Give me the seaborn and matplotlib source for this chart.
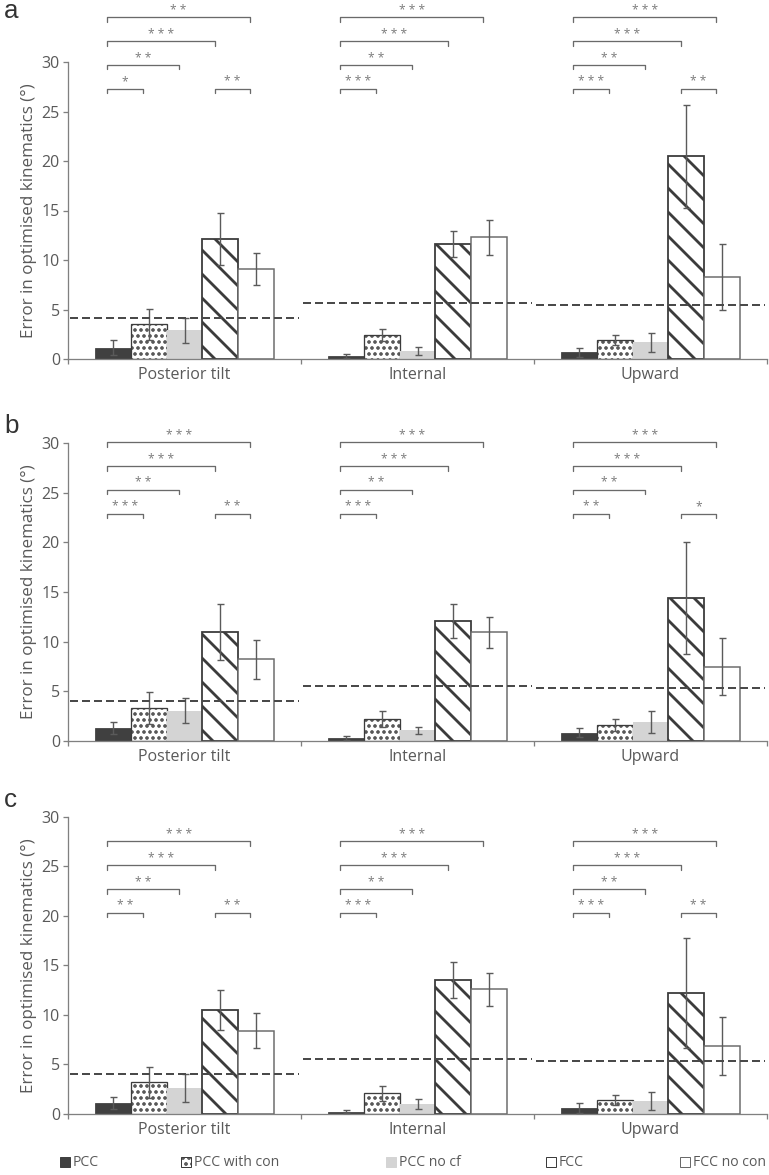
import numpy as np
import pandas as pd
import matplotlib
matplotlib.use("Agg")
import matplotlib.pyplot as plt
import seaborn as sns
from matplotlib.patches import Patch

# ---------------- data ----------------
motions = ["Posterior tilt", "Internal", "Upward"]
conditions = ["PCC", "PCC with con", "PCC no cf", "FCC", "FCC no con"]
panel_letters = ["a", "b", "c"]
ylabel = "Error in optimised kinematics (°)"

# mean error per motion (rows) and condition (columns)
a_means = [[1.14, 3.5, 2.9, 12.1, 9.1],
           [0.3, 2.42, 0.85, 11.6, 12.3],
           [0.67, 1.92, 1.68, 20.5, 8.3]]
a_errs = [[0.75, 1.6, 1.25, 2.6, 1.65],
          [0.2, 0.6, 0.4, 1.3, 1.75],
          [0.45, 0.5, 0.95, 5.2, 3.3]]
a_ref = [4.1, 5.7, 5.45]

b_means = [[1.25, 3.27, 3.03, 10.94, 8.2],
           [0.24, 2.19, 1.05, 12.08, 10.94],
           [0.8, 1.58, 1.92, 14.43, 7.47]]
b_errs = [[0.6, 1.6, 1.27, 2.8, 2.0],
          [0.2, 0.8, 0.38, 1.7, 1.55],
          [0.45, 0.6, 1.1, 5.65, 2.85]]
b_ref = [4.0, 5.55, 5.35]

c_means = [[1.14, 3.2, 2.59, 10.5, 8.4],
           [0.24, 2.09, 1.05, 13.5, 12.58],
           [0.64, 1.41, 1.31, 12.24, 6.86]]
c_errs = [[0.6, 1.57, 1.4, 2.0, 1.75],
          [0.16, 0.77, 0.5, 1.8, 1.65],
          [0.5, 0.5, 0.9, 5.55, 2.95]]
c_ref = [4.04, 5.55, 5.35]

# significance: PCC vs (con, no cf, FCC, FCC no con), then FCC vs FCC no con
a_stars = [["*", "**", "***", "**", "**"],
           ["***", "**", "***", "***", ""],
           ["***", "**", "***", "***", "**"]]
b_stars = [["***", "**", "***", "***", "**"],
           ["***", "**", "***", "***", ""],
           ["**", "**", "***", "***", "*"]]
c_stars = [["**", "**", "***", "***", "**"],
           ["***", "**", "***", "***", ""],
           ["***", "**", "***", "***", "**"]]
bracket_base = [27.3, 22.9, 20.3]

panels = [(a_means, a_errs, a_ref, a_stars),
          (b_means, b_errs, b_ref, b_stars),
          (c_means, c_errs, c_ref, c_stars)]

# ---------------- style ----------------
DPI = 72
W, H = 769, 1175
sns.set_style("white")
plt.rcParams["font.family"] = ["Open Sans", "DejaVu Sans"]
plt.rcParams["hatch.linewidth"] = 2.4

TXT = "#595959"
AX = "#808080"
DARK = "#3c3c3c"
fills = {"PCC": "#404040", "PCC with con": "white", "PCC no cf": "#d4d4d4",
         "FCC": "white", "FCC no con": "white"}
edges = {"PCC": "#404040", "PCC with con": DARK, "PCC no cf": "#d4d4d4",
         "FCC": DARK, "FCC no con": "#6a6a6a"}
hatches = {"PCC": None, "PCC with con": "..", "PCC no cf": None,
           "FCC": "\\", "FCC no con": None}
lws = {"PCC": 0.8, "PCC with con": 1.3, "PCC no cf": 0.0, "FCC": 1.8, "FCC no con": 1.5}
hlw = {"PCC with con": 2.3, "FCC": 2.8}

fig = plt.figure(figsize=(W / DPI, H / DPI), dpi=DPI)

ax_left = 68 / W
ax_w = 699 / W
ax_rows = [(62, 359), (443.3, 740.7), (816.7, 1114)]
letter_base = [18, 433, 807]

for p, (means, errs, ref, stars) in enumerate(panels):
    top, bot = ax_rows[p]
    ax = fig.add_axes([ax_left, 1 - bot / H, ax_w, (bot - top) / H])
    rows = []
    for i, m in enumerate(motions):
        for k, c in enumerate(conditions):
            rows.append({"motion": m, "condition": c, "value": means[i][k], "err": errs[i][k]})
    df = pd.DataFrame(rows)
    sns.barplot(data=df, x="motion", y="value", hue="condition", order=motions,
                hue_order=conditions, palette=fills, width=0.77, saturation=1,
                errorbar=None, legend=False, ax=ax)

    bar_containers = list(ax.containers)
    centers = np.zeros((len(conditions), len(motions)))
    for k, cont in enumerate(bar_containers):
        cname = conditions[k]
        for i, bar in enumerate(cont):
            bar.set_facecolor(fills[cname])
            bar.set_edgecolor(edges[cname])
            bar.set_linewidth(lws[cname])
            if hatches[cname]:
                bar.set_hatch(hatches[cname])
                try:
                    bar.set_hatch_linewidth(hlw[cname])
                except AttributeError:
                    pass
            centers[k, i] = bar.get_x() + bar.get_width() / 2
    for k, cname in enumerate(conditions):
        ys = [means[i][k] for i in range(len(motions))]
        es = [errs[i][k] for i in range(len(motions))]
        ax.errorbar(centers[k], ys, yerr=es, fmt="none", ecolor="#5a5a5a",
                    elinewidth=1.4, capsize=3.5, capthick=1.4, zorder=5)

    # reference dashed level per motion
    for i, v in enumerate(ref):
        ax.plot([i - 0.49, i + 0.49], [v, v], ls=(0, (4, 2)), lw=2.0,
                color="#4a4a4a", zorder=6, clip_on=False)

    # significance brackets
    off = 0.025
    drop = 0.45
    step = 2.4

    def bracket(x0, x1, y, s):
        ax.plot([x0, x0, x1, x1], [y - drop, y, y, y - drop], color="#6a6a6a",
                lw=1.3, clip_on=False)
        ax.text((x0 + x1) / 2, y + 0.35, " ".join(s), ha="center", va="baseline",
                fontsize=12, color="#7a7a7a", clip_on=False)

    for i in range(len(motions)):
        base = bracket_base[p]
        for lvl in range(4):
            bracket(centers[0, i] - off, centers[lvl + 1, i] - off,
                    base + lvl * step, stars[i][lvl])
        if stars[i][4]:
            bracket(centers[3, i] - off, centers[4, i] - off, base, stars[i][4])

    ax.set_xlim(-0.5, 2.5)
    ax.set_ylim(0, 30)
    ax.set_yticks(np.arange(0, 31, 5))
    ax.set_xticks(range(len(motions)))
    ax.set_xticklabels(motions)
    ax.set_xticks([-0.5, 0.5, 1.5, 2.5], minor=True)
    ax.set_xlabel("")
    ax.set_ylabel(ylabel, fontsize=17, color=TXT, labelpad=5)
    for sp in ["top", "right"]:
        ax.spines[sp].set_visible(False)
    for sp in ["left", "bottom"]:
        ax.spines[sp].set_color(AX)
        ax.spines[sp].set_linewidth(1.3)
    ax.tick_params(axis="y", length=5, width=1.3, color=AX, labelsize=16,
                   labelcolor=TXT, pad=3, left=True)
    ax.tick_params(axis="x", which="major", length=0, pad=8, labelsize=16,
                   labelcolor=TXT)
    ax.tick_params(axis="x", which="minor", length=5, width=1.3, color=AX,
                   bottom=True)

    fig.text(4 / W, 1 - letter_base[p] / H, panel_letters[p], fontsize=26,
             color="#333333", va="baseline", ha="left", family="Liberation Sans")

# legend: one entry per slot, placed like the original
legend_x = [60, 181, 386, 546, 680]
for c, lx in zip(conditions, legend_x):
    h = Patch(facecolor=fills[c], edgecolor=edges[c], hatch=hatches[c], linewidth=1.0)
    fig.legend([h], [c], loc="center left", bbox_to_anchor=(lx / W, 1 - 1163 / H),
               frameon=False, fontsize=14, labelcolor=TXT, handlelength=0.7,
               handleheight=0.7, handletextpad=0.2, borderpad=0, borderaxespad=0)

fig.savefig("out.png", dpi=DPI)
